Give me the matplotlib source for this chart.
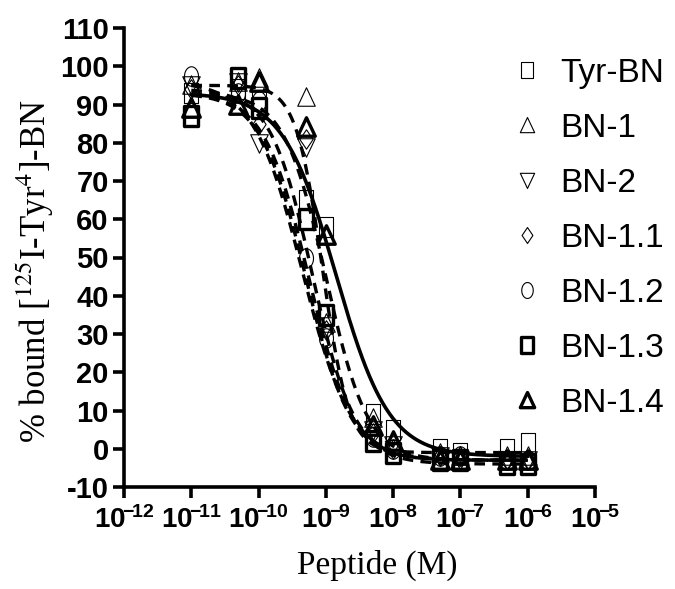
import numpy as np
import matplotlib
matplotlib.use("Agg")
import matplotlib.pyplot as plt
from matplotlib.path import Path

plt.rcParams['font.family'] = ['Liberation Sans', 'DejaVu Sans']
plt.rcParams['mathtext.fontset'] = 'custom'
plt.rcParams['mathtext.rm'] = 'Liberation Sans:bold'
plt.rcParams['mathtext.bf'] = 'Liberation Sans:bold'
plt.rcParams['mathtext.it'] = 'Liberation Sans:bold'

# ---- data ----
conc = [1e-11, 5e-11, 1e-10, 5e-10, 1e-9, 5e-9, 1e-8, 5e-8, 1e-7, 5e-7, 1e-6]
names = ["Tyr-BN", "BN-1", "BN-2", "BN-1.1", "BN-1.2", "BN-1.3", "BN-1.4"]
tyr_bn = [93, 94, 91, 65, 58, 9, 5, 0, -1, 0, 1.5]
bn_1 = [95, 96, 97, 92, 33, 8, 2, -1, -2, -2, -2]
bn_2 = [95, 96, 80, 79, 32, 5, 1, -2, -3, -3, -3]
bn_1_1 = [94, 95, 85, 81, 31, 4, 0, -2, -2, -3, -3]
bn_1_2 = [97.5, 93, 91, 50, 29, 3, 0, -2, -2, -3, -3]
bn_1_3 = [87, 97, 89, 60, 35, 2, -1, -3, -3, -4, -4]
bn_1_4 = [89, 90, 96, 84, 56, 6, 2, -3, -3, -3, -3]
series = [tyr_bn, bn_1, bn_2, bn_1_1, bn_1_2, bn_1_3, bn_1_4]

# fitted sigmoid parameters (top, bottom, logIC50, hill)
fit_top = [93, 95, 93, 94, 96, 93, 93]
fit_bottom = [-2, -1, -3, -3, -3, -4, -3]
fit_logic50 = [-8.85, -9.05, -9.3, -9.2, -9.35, -9.25, -9.0]
fit_hill = [1.1, 2.2, 1.3, 1.4, 1.2, 1.3, 1.4]

xticks = [1e-12, 1e-11, 1e-10, 1e-9, 1e-8, 1e-7, 1e-6, 1e-5]
xticklabels = [r"$10^{\!\!-\!\!12}$", r"$10^{\!\!-\!\!11}$", r"$10^{\!\!-\!\!10}$",
               r"$10^{\!\!-\!\!9}$", r"$10^{\!\!-\!\!8}$", r"$10^{\!\!-\!\!7}$",
               r"$10^{\!\!-\!\!6}$", r"$10^{\!\!-\!\!5}$"]
yticks = list(range(-10, 111, 10))

# ---- marker shapes ----
def poly(pts):
    pts = list(pts) + [pts[0]]
    codes = [Path.MOVETO] + [Path.LINETO] * (len(pts) - 2) + [Path.CLOSEPOLY]
    return Path(pts, codes)

rect = poly([(-0.36, -0.5), (0.36, -0.5), (0.36, 0.5), (-0.36, 0.5)])
tri_up = poly([(-0.45, -0.45), (0.45, -0.45), (0.0, 0.5)])
tri_dn = poly([(-0.45, 0.45), (0.45, 0.45), (0.0, -0.5)])
diam = poly([(0.0, 0.5), (0.34, 0.0), (0.0, -0.5), (-0.34, 0.0)])
t = np.linspace(0, 2 * np.pi, 60)
ell = poly(list(zip(0.36 * np.cos(t[:-1]), 0.5 * np.sin(t[:-1]))))

markers = [rect, tri_up, tri_dn, diam, ell, rect, tri_up]
edgew = [0.8, 0.8, 0.8, 0.8, 0.8, 2.4, 2.4]
msize = [14, 14, 14, 14, 14, 14, 14]

fig = plt.figure(figsize=(6.75, 5.89), dpi=100)
ax = fig.add_axes([124 / 675, 1 - 487 / 589, (595 - 124) / 675, (487 - 28) / 589])

xs = np.logspace(-11, -6, 400)
for i in range(len(names)):
    top, bot, lic, h = fit_top[i], fit_bottom[i], fit_logic50[i], fit_hill[i]
    ys = bot + (top - bot) / (1 + 10 ** (h * (np.log10(xs) - lic)))
    if i == 0:
        ax.plot(xs, ys, color='black', lw=2.6, ls='-', zorder=2)
    else:
        ax.plot(xs, ys, color='black', lw=2.4, ls=(0, (3.2, 2.2)), zorder=2)

handles = []
for i, name in enumerate(names):
    hnd, = ax.plot(conc, series[i], ls='none', marker=markers[i], ms=msize[i],
                   mfc='none', mec='black', mew=edgew[i], label=name, zorder=3)
    handles.append(hnd)

ax.set_xscale('log')
ax.set_xlim(1e-12, 1e-5)
ax.set_ylim(-10, 110)
ax.set_xticks(xticks)
ax.set_xticklabels(xticklabels)
ax.minorticks_off()
ax.set_yticks(yticks)
ax.set_yticklabels([str(v) for v in yticks], fontsize=21, fontweight='bold')
for lab in ax.get_xticklabels():
    lab.set_fontsize(20)
ax.tick_params(axis='both', direction='out', length=8, width=2.6, pad=3)
ax.tick_params(axis='x', pad=6)
for s in ['top', 'right']:
    ax.spines[s].set_visible(False)
for s in ['left', 'bottom']:
    ax.spines[s].set_linewidth(2.6)

ax.set_xlabel("Peptide (M)", family='Liberation Serif', fontsize=24)
ax.xaxis.set_label_coords((377 - 124) / 471, -(565 - 487) / 459)
ax.set_ylabel("% bound [$^{125}$I-Tyr$^{4}$]-BN", family='Liberation Serif',
              fontsize=25, math_fontfamily='stix')
ax.yaxis.set_label_coords(-(124 - 35) / 471, (487 - 271) / 459)
ax.xaxis.label.set_va('center')
ax.yaxis.label.set_va('center')

leg = fig.legend(handles=handles, labels=names, loc='upper left',
                 bbox_to_anchor=(512 / 675, 1 - 58 / 589), frameon=False,
                 fontsize=24, markerscale=0.82, handlelength=0.9,
                 handletextpad=0.55, labelspacing=0.72, borderpad=0,
                 borderaxespad=0)

fig.savefig("out.png", dpi=100)
